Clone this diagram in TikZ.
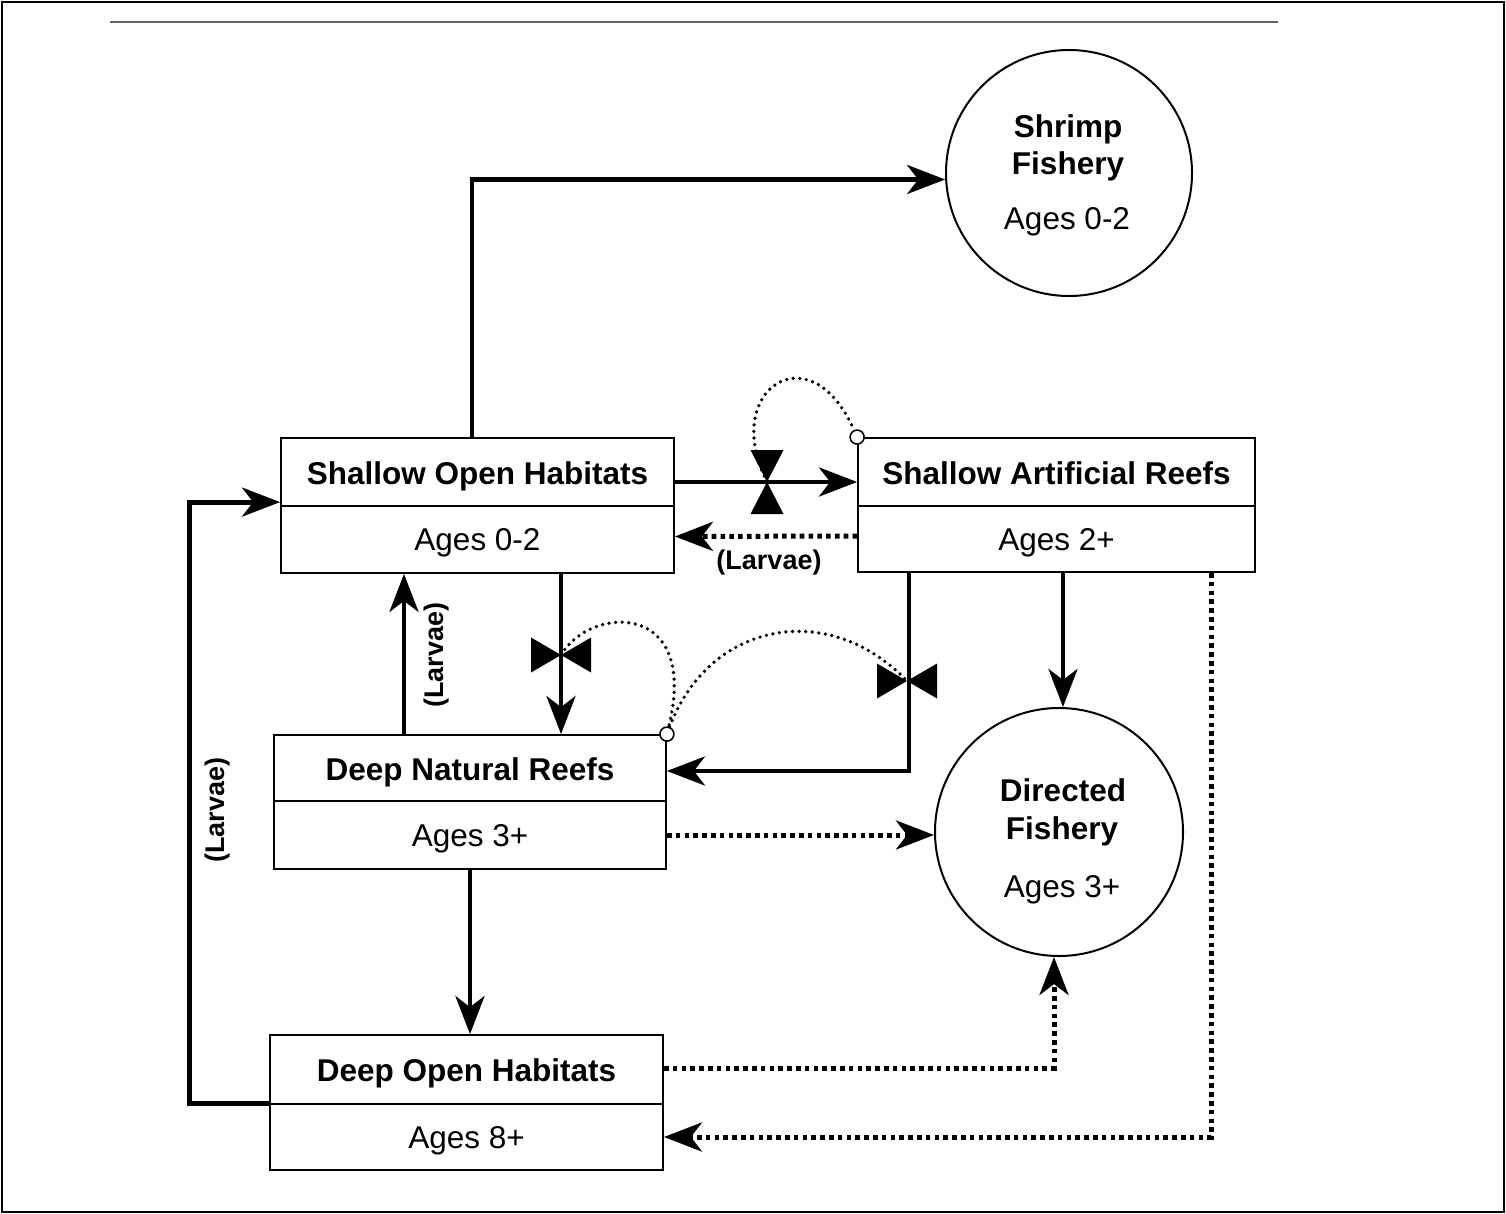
\documentclass[tikz,border=0pt]{standalone}
\usepackage{fontspec}
\setmainfont{Liberation Sans}
\usetikzlibrary{arrows.meta}
\begin{document}
\begin{tikzpicture}[x=1pt,y=-1pt,
  tip/.tip={Stealth[length=38pt,width=29pt,inset=11pt]},
  titlebox/.style={draw, line width=1.8pt, inner sep=0pt, text height=24.5pt, text depth=0pt,
    font=\fontsize{31.5}{36}\selectfont\bfseries},
  agebox/.style={draw, line width=1.8pt, inner sep=0pt, text height=22.6pt, text depth=0pt,
    font=\fontsize{31.5}{36}\selectfont},
  fishery/.style={draw, circle, line width=2pt, inner sep=0pt},
  fishtitle/.style={anchor=base, inner sep=0pt, font=\fontsize{31.5}{36}\selectfont\bfseries},
  fishage/.style={anchor=base, inner sep=0pt, font=\fontsize{31.5}{36}\selectfont},
  larvae/.style={inner sep=0pt, font=\fontsize{27}{30}\selectfont\bfseries},
  flow/.style={line width=4.8pt, -tip},
  dotflow/.style={line width=5pt, dash pattern=on 4.6pt off 4.2pt, -tip},
  infoline/.style={line width=3.7pt, line cap=round, dash pattern=on 0pt off 6.6pt},
  hub/.style={draw, circle, line width=1.6pt, fill=white, minimum size=14pt, inner sep=0pt},
  valveV/.pic={
    \fill (-16.5,-32) -- (0,0) -- (16.5,-32) -- cycle;
    \fill (-16.5,32) -- (0,0) -- (16.5,32) -- cycle;},
  valveH/.pic={
    \fill (-30,-17.5) -- (0,0) -- (-30,17.5) -- cycle;
    \fill (30,-17.5) -- (0,0) -- (30,17.5) -- cycle;}
]
\useasboundingbox (0,0) rectangle (1506,1214);

% page frame and rule
\draw[line width=2pt] (2,2) rectangle (1504,1212);
\draw[line width=2.2pt, black!60] (110,22) -- (1278,22);

% habitat boxes (title part above, age part below)
\node[titlebox, minimum width=393pt, minimum height=68pt] (sohT) at (477.5,472) {Shallow Open Habitats};
\node[agebox,   minimum width=393pt, minimum height=67pt] (sohB) at (477.5,539.5) {Ages 0-2};

\node[titlebox, minimum width=397pt, minimum height=68pt] (sarT) at (1056.5,472) {Shallow Artificial Reefs};
\node[agebox,   minimum width=397pt, minimum height=66pt] (sarB) at (1056.5,539) {Ages 2+};

\node[titlebox, minimum width=392pt, minimum height=66pt] (dnrT) at (470,768) {Deep Natural Reefs};
\node[agebox,   minimum width=392pt, minimum height=68pt] (dnrB) at (470,835) {Ages 3+};

\node[titlebox, minimum width=393pt, minimum height=69pt] (dohT) at (466.5,1069.5) {Deep Open Habitats};
\node[agebox,   minimum width=393pt, minimum height=66pt] (dohB) at (466.5,1137) {Ages 8+};

% fisheries
\node[fishery, minimum size=246pt] (shrimp) at (1069,173) {};
\node[fishtitle] (shrimpA) at (1068,138) {Shrimp};
\node[fishtitle] (shrimpB) at (1068,175) {Fishery};
\node[fishage]   (shrimpC) at (1067,230) {Ages 0-2};

\node[fishery, minimum size=248pt] (directed) at (1059,832) {};
\node[fishtitle] (directedA) at (1063,801) {Directed};
\node[fishtitle] (directedB) at (1062,839) {Fishery};
\node[fishage]   (directedC) at (1062,897) {Ages 3+};

% solid flows
\draw[flow] ([xshift=-5.5pt]sohT.north) |- (shrimp.183.7);
\draw[flow] ([yshift=-10pt]sohT.east) -- ([yshift=-10pt]sarT.west);
\draw[flow] ([xshift=83.5pt]sohB.south) -- ([xshift=83.5pt]sohB.south |- dnrT.north);
\draw[flow] ([xshift=-66pt]dnrT.north) -- ([xshift=-66pt]dnrT.north |- sohB.south);
\draw[flow] ([xshift=-147.5pt]sarB.south) |- ([yshift=-3pt]dnrT.east);
\draw[flow] ([xshift=4pt]directed.north |- sarB.south) -- ([xshift=4pt]directed.north);
\draw[flow] (dnrB.south) -- (dnrB.south |- dohT.north);
\draw[flow] (dohB.north west) -- ++(-80,0) |- ([yshift=3pt]sohB.north west);

% dotted flows
\draw[dotflow] ([yshift=3pt]sarB.west) -- ([yshift=3pt]sohB.east);
\draw[dotflow] (dnrB.east) -- (dnrB.east -| directed.west);
\draw[dotflow] ([yshift=1.5pt]dohT.east) -| ([xshift=-5pt]directed.south);
\draw[dotflow] ([xshift=154.5pt]sarB.south) |- (dohB.east);

% larvae labels
\node[larvae] (lar1) at (769,563) {(Larvae)};
\node[larvae, rotate=90] (lar2) at (437,655) {(Larvae)};
\node[larvae, rotate=90] (lar3) at (218,810) {(Larvae)};

% valves on the movement flows
\coordinate (v1) at (767,482);
\coordinate (v2) at (561,655);
\coordinate (v3) at (907,681);
\pic at (v1) {valveV};
\pic at (v2) {valveH};
\pic at (v3) {valveH};

% information links controlling the valves
\node[hub] (h1) at (sarT.north west) {};
\node[hub] (h2) at (dnrT.north east) {};
\draw[infoline] (v1) .. controls (720,390) and (810,330) .. (h1);
\draw[infoline] (v2) .. controls (590,605) and (700,600) .. (h2);
\draw[infoline] (h2) .. controls (710,620) and (830,600) .. (v3);
\end{tikzpicture}
\end{document}
